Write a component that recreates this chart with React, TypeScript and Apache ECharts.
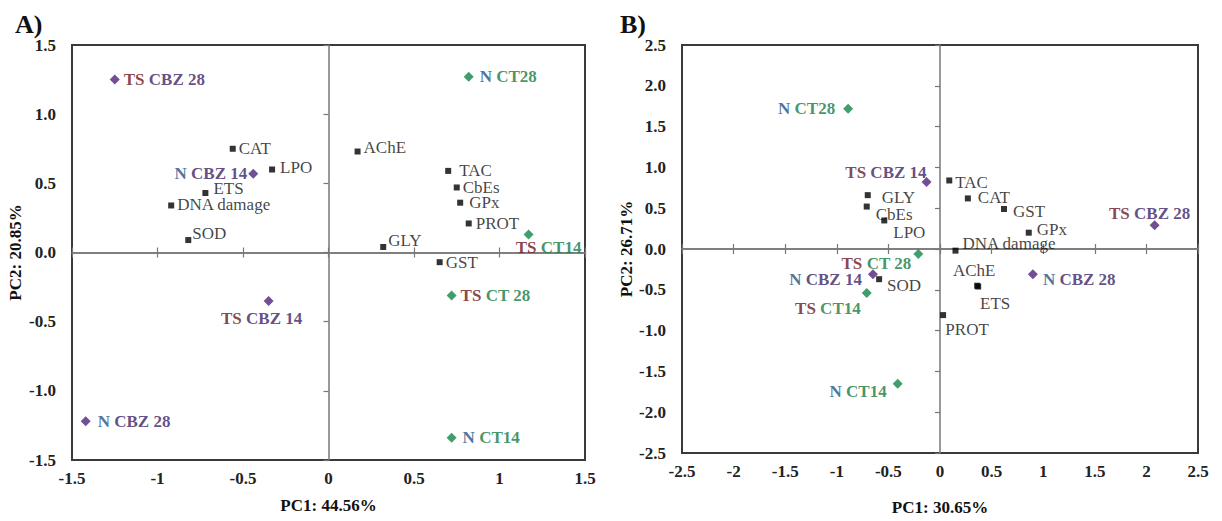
import React, { useEffect, useRef } from "react";
import * as echarts from "echarts";

// ---------- Panel A data ----------
const A_varNames = ["CAT", "LPO", "ETS", "DNA damage", "SOD", "AChE", "TAC", "CbEs", "GPx", "PROT", "GLY", "GST"];
const A_varPC1 = [-0.56, -0.33, -0.72, -0.92, -0.82, 0.17, 0.7, 0.75, 0.77, 0.82, 0.32, 0.65];
const A_varPC2 = [0.75, 0.6, 0.43, 0.34, 0.09, 0.73, 0.59, 0.47, 0.36, 0.21, 0.04, -0.07];
const A_grpNames = ["TS CBZ 28", "N CBZ 14", "TS CBZ 14", "N CBZ 28", "N CT28", "TS CT14", "TS CT 28", "N CT14"];
const A_grpPC1 = [-1.25, -0.44, -0.35, -1.42, 0.82, 1.17, 0.72, 0.72];
const A_grpPC2 = [1.25, 0.57, -0.35, -1.22, 1.27, 0.13, -0.31, -1.34];

// ---------- Panel B data ----------
const B_varNames = ["GLY", "CbEs", "LPO", "TAC", "CAT", "GST", "GPx", "DNA damage", "AChE", "ETS", "PROT", "SOD"];
const B_varPC1 = [-0.7, -0.71, -0.54, 0.09, 0.27, 0.62, 0.86, 0.15, 0.36, 0.37, 0.03, -0.59];
const B_varPC2 = [0.66, 0.52, 0.35, 0.84, 0.62, 0.49, 0.2, -0.02, -0.45, -0.46, -0.81, -0.37];
const B_grpNames = ["N CT28", "TS CBZ 14", "TS CBZ 28", "N CBZ 28", "N CBZ 14", "TS CT 28", "TS CT14", "N CT14"];
const B_grpPC1 = [-0.89, -0.13, 2.08, 0.9, -0.65, -0.21, -0.71, -0.41];
const B_grpPC2 = [1.72, 0.82, 0.29, -0.31, -0.31, -0.06, -0.54, -1.65];

const A_titles = { x: "PC1: 44.56%", y: "PC2: 20.85%" };
const B_titles = { x: "PC1: 30.65%", y: "PC2: 26.71%" };

// ---------- label placement (layout only) ----------
type Place = [string, number, number];
const A_place: Record<string, Place> = {
  CAT: ["right", 1, 0],
  LPO: ["right", 3, -2],
  ETS: ["right", 3, -5],
  "DNA damage": ["right", 1, -1],
  SOD: ["right", -1, -7],
  AChE: ["right", 1, -4],
  TAC: ["right", 6, 0],
  CbEs: ["right", 1, 0],
  GPx: ["right", 4, 0],
  PROT: ["right", 2, 0],
  GLY: ["right", 0, -6],
  GST: ["right", 1, 0],
  "TS CBZ 28": ["right", 0, 0],
  "N CT28": ["right", 2, 0],
  "TS CT 28": ["right", 0, 0],
  "N CT14": ["right", 2, 0],
  "N CBZ 28": ["right", 3, 0],
  "N CBZ 14": ["left", 3, 0],
  "TS CBZ 14": ["bottom", -7, 0],
  "TS CT14": ["bottom", 20, -5],
};
const B_place: Record<string, Place> = {
  GLY: ["right", 9, 2],
  CbEs: ["right", 4, 8],
  LPO: ["right", 4, 12],
  TAC: ["right", 1, 2],
  CAT: ["right", 5, -1],
  GST: ["right", 4, 2],
  GPx: ["right", 3, -3],
  "DNA damage": ["right", 2, -7],
  AChE: ["top", -3, -2],
  ETS: ["bottom", 17, 3],
  PROT: ["bottom", 24, 1],
  SOD: ["right", 3, 6],
  "N CT28": ["left", -4, 0],
  "TS CBZ 14": ["left", 9, -10],
  "TS CBZ 28": ["top", -5, 6],
  "N CBZ 28": ["right", 1, 5],
  "N CBZ 14": ["left", -2, 5],
  "TS CT 28": ["left", 2, 10],
  "TS CT14": ["left", 3, 15],
  "N CT14": ["left", -2, 8],
};

const FONT = '"Liberation Serif", "Times New Roman", serif';
const C_TS = "#6e1420";
const C_N = "#1f5284";
const C_CBZ = "#3d1f66";
const C_CT = "#167a42";
const M_CBZ = "#4f2379";
const M_CT = "#138447";

function groupFormatter(p: any) {
  const name: string = p.name;
  const idx = name.indexOf(" ");
  const pre = name.slice(0, idx);
  const rest = name.slice(idx);
  const preKey = pre === "TS" ? "ts" : "n";
  const restKey = rest.indexOf("CBZ") >= 0 ? "cbz" : "ct";
  return `{${preKey}|${pre}}{${restKey}|${rest}}`;
}

function varSeries(names: string[], xs: number[], ys: number[], place: Record<string, Place>, axis: number) {
  return {
    type: "scatter",
    xAxisIndex: axis * 3,
    yAxisIndex: axis * 2,
    symbol: "rect",
    symbolSize: 6,
    itemStyle: { color: "#000" },
    z: 5,
    label: { show: true, formatter: "{b}", fontFamily: FONT, fontSize: 17, color: "#111" },
    data: names.map((n, i) => {
      const pl = place[n];
      return {
        name: n,
        value: [xs[i], ys[i]],
        label: { position: pl[0], distance: 2, offset: [pl[1], pl[2]] },
      };
    }),
  };
}

function groupSeries(names: string[], xs: number[], ys: number[], place: Record<string, Place>, axis: number) {
  const rs = { fontFamily: FONT, fontSize: 17, fontWeight: "bold" };
  return {
    type: "scatter",
    xAxisIndex: axis * 3,
    yAxisIndex: axis * 2,
    symbol: "diamond",
    symbolSize: 10,
    z: 6,
    label: {
      show: true,
      formatter: groupFormatter,
      fontFamily: FONT,
      fontSize: 17,
      fontWeight: "bold",
      rich: {
        ts: { ...rs, color: C_TS },
        n: { ...rs, color: C_N },
        cbz: { ...rs, color: C_CBZ },
        ct: { ...rs, color: C_CT },
      },
    },
    data: names.map((n, i) => {
      const pl = place[n];
      return {
        name: n,
        value: [xs[i], ys[i]],
        itemStyle: { color: n.indexOf("CBZ") >= 0 ? M_CBZ : M_CT },
        label: { position: pl[0], distance: 4, offset: [pl[1], pl[2]] },
      };
    }),
  };
}

const tickText = { fontFamily: FONT, fontSize: 17, fontWeight: "bold", color: "#222" };
const titleText = { fontFamily: FONT, fontSize: 17, fontWeight: "bold", color: "#111" };

function xAxes(grid: number, lim: number, title: string, gap: number) {
  const base = { type: "value", gridIndex: grid, min: -lim, max: lim, interval: 0.5, position: "bottom", splitLine: { show: false } };
  return [
    {
      ...base,
      axisLine: { show: false, onZero: false },
      axisTick: { show: false },
      axisLabel: { ...tickText, margin: 10 },
      name: title,
      nameLocation: "middle",
      nameGap: gap,
      nameTextStyle: titleText,
    },
    {
      ...base,
      axisLine: { show: true, onZero: true, lineStyle: { color: "#777", width: 1.5 } },
      axisTick: { show: true, inside: false, length: 5, lineStyle: { color: "#777", width: 1.2 } },
      axisLabel: { show: false },
    },
    {
      ...base,
      axisLine: { show: true, onZero: true, lineStyle: { color: "#777", width: 1.5 } },
      axisTick: { show: true, inside: true, length: 5, lineStyle: { color: "#777", width: 1.2 } },
      axisLabel: { show: false },
    },
  ];
}

function yAxes(grid: number, lim: number, title: string, gap: number) {
  const base = { type: "value", gridIndex: grid, min: -lim, max: lim, interval: 0.5, position: "left", splitLine: { show: false } };
  return [
    {
      ...base,
      axisLine: { show: false, onZero: false },
      axisTick: { show: false },
      axisLabel: { ...tickText, margin: 16, formatter: (v: number) => v.toFixed(1) },
      name: title,
      nameLocation: "middle",
      nameGap: gap,
      nameTextStyle: titleText,
    },
    {
      ...base,
      axisLine: { show: true, onZero: true, lineStyle: { color: "#777", width: 1.5 } },
      axisTick: { show: true, inside: false, length: 5, lineStyle: { color: "#777", width: 1.2 } },
      axisLabel: { show: false },
    },
  ];
}

export default function App() {
  const ref = useRef<HTMLDivElement>(null);
  useEffect(() => {
    if (!ref.current) return;
    const chart = echarts.init(ref.current, undefined, { renderer: "svg" });
    const gridStyle = { show: true, borderColor: "#3a3a3a", borderWidth: 2, containLabel: false };
    chart.setOption({
      animation: false,
      backgroundColor: "#ffffff",
      grid: [
        { ...gridStyle, left: 72, top: 45, width: 513, height: 415 },
        { ...gridStyle, left: 682, top: 45, width: 516, height: 415 },
      ],
      xAxis: [...xAxes(0, 1.5, A_titles.x, 37), ...xAxes(1, 2.5, B_titles.x, 46)],
      yAxis: [...yAxes(0, 1.5, A_titles.y, 48), ...yAxes(1, 2.5, B_titles.y, 46)],
      graphic: [
        { type: "text", left: 15, top: 11, style: { text: "A)", fontFamily: FONT, fontSize: 26, fontWeight: "bold", fill: "#111" } },
        { type: "text", left: 620, top: 11, style: { text: "B)", fontFamily: FONT, fontSize: 26, fontWeight: "bold", fill: "#111" } },
      ],
      series: [
        varSeries(A_varNames, A_varPC1, A_varPC2, A_place, 0),
        groupSeries(A_grpNames, A_grpPC1, A_grpPC2, A_place, 0),
        varSeries(B_varNames, B_varPC1, B_varPC2, B_place, 1),
        groupSeries(B_grpNames, B_grpPC1, B_grpPC2, B_place, 1),
      ],
    });
    return () => chart.dispose();
  }, []);
  return <div ref={ref} style={{ position: "absolute", left: 0, top: 0, width: 1222, height: 521 }} />;
}
